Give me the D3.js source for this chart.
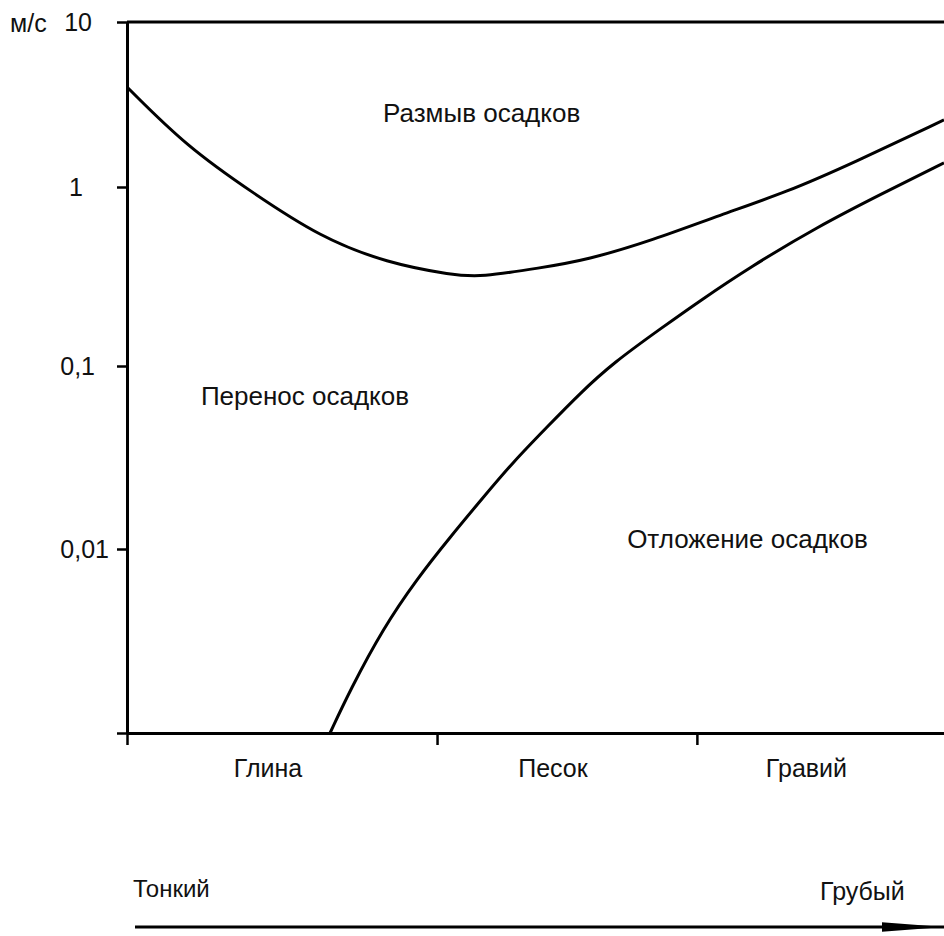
<!DOCTYPE html>
<html>
<head>
<meta charset="utf-8">
<script src="https://cdn.jsdelivr.net/npm/d3@7"></script>
<style>
  body { margin: 0; background: #fff; }
  svg { display: block; }
  text { font-family: "Liberation Sans", Arial, sans-serif; fill: #111; }
</style>
</head>
<body>
<svg width="944" height="936"></svg>
<script>
// grain size classes (mm) and speed ticks (m/s)
const categories = ['Глина', 'Песок', 'Гравий'];
const classBounds = [0.001, 0.0625, 2, 54];
const speedTicks = [0.001, 0.01, 0.1, 1, 10];
const speedLabels = ['', '0,01', '0,1', '1', '10'];

// erosion curve
const erosionSize  = [0.001, 0.00223, 0.00537, 0.0131, 0.0321, 0.0774, 0.111, 0.247, 0.462, 1.12, 2.73, 6.67, 16.1, 54];
const erosionSpeed = [4.04, 1.75, 0.926, 0.526, 0.376, 0.322, 0.314, 0.353, 0.391, 0.506, 0.698, 0.938, 1.40, 2.55];

// deposition curve
const depositSize  = [0.0150, 0.0196, 0.0304, 0.0479, 0.0743, 0.116, 0.172, 0.271, 0.421, 0.654, 1.27, 2.09, 4.07, 9.95, 24.0, 54];
const depositSpeed = [0.001, 0.00171, 0.00370, 0.00690, 0.0116, 0.0192, 0.0298, 0.0464, 0.0710, 0.104, 0.165, 0.232, 0.357, 0.598, 0.925, 1.40];

const regionLabels = ['Размыв осадков', 'Перенос осадков', 'Отложение осадков'];
const regionSize  = [0.0304, 0.00268, 0.789];
const regionSpeed = [2.48, 0.0612, 0.0101];

const svg = d3.select('svg');

const x = d3.scaleLog().domain([0.001, 54]).range([127, 944]);
// scanned figure: decades are not exactly even, so piecewise log
const y = d3.scaleLog().domain(speedTicks).range([733, 549, 366, 187, 22]);

// y axis
const labelShift = [0, 0, -14, -26, -17];
const yAxis = svg.append('g')
  .attr('transform', `translate(${x(0.001)},0)`)
  .call(d3.axisLeft(y).tickValues(speedTicks).tickSize(10).tickSizeOuter(0)
    .tickPadding(8).tickFormat((d, i) => speedLabels[i]));
yAxis.selectAll('text')
  .style('font-size', '25px')
  .style('font-family', '"Liberation Sans", Arial, sans-serif')
  .attr('dx', (d, i) => labelShift[i]);
yAxis.select('.domain').attr('stroke-width', 3);
yAxis.selectAll('line').attr('stroke-width', 2.5);

svg.append('text')
  .attr('x', 10).attr('y', y(10) + 10)
  .style('font-size', '25px')
  .text('м/с');

// x axis
const xAxis = svg.append('g')
  .attr('transform', `translate(0,${y(0.001)})`)
  .call(d3.axisBottom(x).tickValues(classBounds.slice(0, 3)).tickSize(12).tickSizeOuter(0).tickFormat(''));
xAxis.select('.domain').attr('stroke-width', 3);
xAxis.selectAll('line').attr('stroke-width', 2.5);

svg.selectAll('.cat')
  .data(categories)
  .enter()
  .append('text')
  .classed('cat', true)
  .attr('x', (d, i) => (x(classBounds[i]) + x(classBounds[i + 1])) / 2 - 14)
  .attr('y', y(0.001) + 44)
  .attr('text-anchor', 'middle')
  .style('font-size', '25px')
  .text(d => d);

// top frame line
svg.append('line')
  .attr('x1', x(0.001)).attr('x2', x(54))
  .attr('y1', y(10)).attr('y2', y(10))
  .attr('stroke', '#000').attr('stroke-width', 3);

// curves
const line = d3.line()
  .x(d => x(d[0]))
  .y(d => y(d[1]))
  .curve(d3.curveBasis);

svg.append('path')
  .datum(d3.zip(erosionSize, erosionSpeed))
  .attr('d', line)
  .attr('fill', 'none').attr('stroke', '#000').attr('stroke-width', 3);

svg.append('path')
  .datum(d3.zip(depositSize, depositSpeed))
  .attr('d', line)
  .attr('fill', 'none').attr('stroke', '#000').attr('stroke-width', 3);

svg.selectAll('.region')
  .data(regionLabels)
  .enter()
  .append('text')
  .classed('region', true)
  .attr('x', (d, i) => x(regionSize[i]))
  .attr('y', (d, i) => y(regionSpeed[i]))
  .style('font-size', '26px')
  .text(d => d);

// fine -> coarse arrow
svg.append('defs').append('marker')
  .attr('id', 'head')
  .attr('viewBox', '0 0 10 10')
  .attr('preserveAspectRatio', 'none')
  .attr('refX', 10).attr('refY', 5)
  .attr('markerWidth', 62).attr('markerHeight', 16)
  .attr('markerUnits', 'userSpaceOnUse')
  .attr('orient', 'auto')
  .append('path')
  .attr('d', 'M0,2 L10,5 L0,8 Z')
  .attr('fill', '#000');

svg.append('line')
  .attr('x1', 135).attr('x2', 944)
  .attr('y1', 927).attr('y2', 927)
  .attr('stroke', '#000').attr('stroke-width', 3)
  .attr('marker-end', 'url(#head)');

svg.append('text').attr('x', 133).attr('y', 897).style('font-size', '24px').text('Тонкий');
svg.append('text').attr('x', 820).attr('y', 900).style('font-size', '25px').text('Грубый');
</script>
</body>
</html>
